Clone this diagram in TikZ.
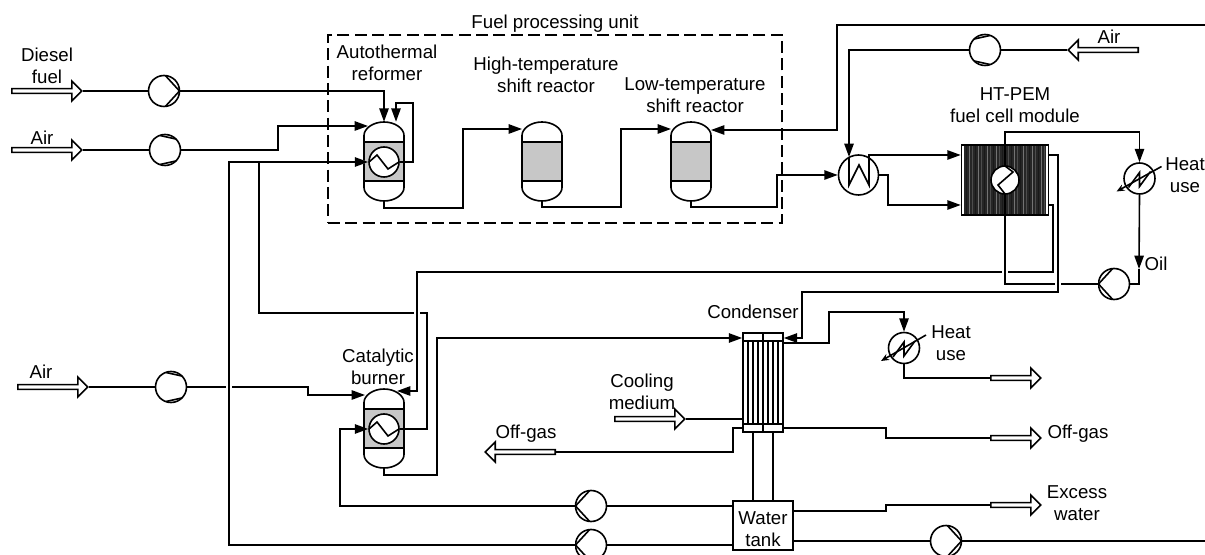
\documentclass[tikz,border=0pt]{standalone}
\usepackage{fontspec}
\setmainfont{Liberation Sans}
\usetikzlibrary{arrows.meta, shapes.arrows}
\definecolor{bedgray}{gray}{0.78}
\tikzset{
    pipe/.style={line width=1.2pt},
    arrow/.style={pipe,-{Triangle[length=10pt,width=7pt]}},
    over/.style={preaction={draw=white,line width=4pt}},
    label/.style={align=center, inner sep=0pt, font=\fontsize{14}{16.5}\selectfont},
    feed/.style={single arrow, draw, pipe, fill=white, anchor=tail, inner sep=0pt, minimum width=15pt, minimum height=52.5pt, single arrow head extend=2pt, single arrow head indent=0pt},
    feedleft/.style={feed, shape border rotate=180},
    outlet/.style={feed, minimum height=37.5pt},
    pumpbase/.style={circle, draw, pipe, fill=white, minimum size=23.25pt, inner sep=0pt},
    pumpright/.style={pumpbase, path picture={\draw[pipe] ([shift={(85:15.5)}]path picture bounding box.center) -- ([shift={(0:15.5)}]path picture bounding box.center) -- ([shift={(-85:15.5)}]path picture bounding box.center);}},
    pumpleft/.style={pumpbase, path picture={\draw[pipe] ([shift={(95:15.5)}]path picture bounding box.center) -- ([shift={(180:15.5)}]path picture bounding box.center) -- ([shift={(-95:15.5)}]path picture bounding box.center);}},
    pumpflat/.style={pumpbase, path picture={\draw[pipe] ([shift={(110:15.5)}]path picture bounding box.center) -- ([shift={(45:15.5)}]path picture bounding box.center); \draw[pipe] ([shift={(-110:15.5)}]path picture bounding box.center) -- ([shift={(-45:15.5)}]path picture bounding box.center);}},
    pumpflatleft/.style={pumpbase, path picture={\draw[pipe] ([shift={(70:15.5)}]path picture bounding box.center) -- ([shift={(135:15.5)}]path picture bounding box.center); \draw[pipe] ([shift={(-70:15.5)}]path picture bounding box.center) -- ([shift={(-135:15.5)}]path picture bounding box.center);}},
    coil/.style={circle, draw, pipe, fill=white, minimum size=22.5pt, inner sep=0pt, path picture={\draw[pipe] (path picture bounding box.west) -- ++(8,-7) -- ++(11,14) -- (path picture bounding box.east);}},
    stackcoil/.style={circle, draw, pipe, fill=white, minimum size=21pt, inner sep=0pt, path picture={\draw[pipe] (path picture bounding box.north) -- ++(8,6) -- ++(-15,13) -- (path picture bounding box.south);}},
    heatuse/.style={circle, draw, pipe, fill=white, minimum size=23.25pt, inner sep=0pt, path picture={\draw[pipe] ([shift={(-11,9)}]path picture bounding box.center) -- ++(11,-15) -- ++(0,14) -- ++(11,-15);}},
    airheater/.style={circle, draw, pipe, fill=white, minimum size=30pt, inner sep=0pt, path picture={\draw[pipe] ([shift={(-9.5,-20)}]path picture bounding box.center) -- ++(0,30) -- ++(10,-20) -- ++(10,20) -- ++(0,-30);}},
    stackbox/.style={rectangle, draw, pipe, fill=white, minimum width=65.25pt, minimum height=52.5pt, inner sep=0pt},
    condbox/.style={rectangle, draw, pipe, fill=white, minimum width=30pt, minimum height=74.25pt, inner sep=0pt},
    tankbox/.style={rectangle, draw, pipe, fill=white, minimum width=45pt, minimum height=36.75pt, inner sep=0pt},
    unitbox/.style={rectangle, draw, line width=1.1pt, dash pattern=on 9pt off 4pt, minimum width=340.5pt, minimum height=141pt},
    vessel/.pic={
        \filldraw[pipe, fill=white] (-20,-26) .. controls (-20,-33) and (-11,-39.5) .. (0,-39.5) .. controls (11,-39.5) and (20,-33) .. (20,-26) -- (20,26) .. controls (20,33) and (11,39.5) .. (0,39.5) .. controls (-11,39.5) and (-20,33) .. (-20,26) -- cycle;
        \filldraw[pipe, fill=bedgray] (-20,-19.5) rectangle (20,19.5);
        \node[minimum width=30pt, minimum height=59.25pt, inner sep=0pt] (-body) {};
    }
}
\begin{document}
\begin{tikzpicture}[x=0.75pt, y=-0.75pt]
    \path[use as bounding box, clip] (0,0) rectangle (1205,555);

    % reactors and burner
    \pic (atr) at (384,161.5) {vessel};
    \pic (hts) at (542,161.5) {vessel};
    \pic (lts) at (691,161.5) {vessel};
    \pic (brn) at (384,428.5) {vessel};
    \node (atrcoil) [coil] at (384,162) {};
    \node (brncoil) [coil] at (384,429) {};

    % fuel cell stack
    \node (stack) [stackbox] at (1005,180) {};
    \fill [black!85] (964,146) rectangle (1046,214);
    \foreach \stripex [count=\i] in {966,969,...,1044} {
        \pgfmathsetmacro{\stripeshade}{ifthenelse(mod(\i,3)==0,70,ifthenelse(mod(\i,3)==1,90,55))}
        \draw [line width=0.7pt, black!\stripeshade] (\stripex,146) -- (\stripex,214);
    }
    \draw [pipe] (stack.north) -- (stack.south);
    \node (stkcoil) [stackcoil] at (1005,180) {};

    % condenser
    \node (cond) [condbox] at (763,382.5) {};
    \foreach \tubex in {748,753,...,778} {
        \draw [pipe] (\tubex,341) -- (\tubex,424);
    }
    \draw [pipe] (743,341) -- (783,341);
    \draw [pipe] (743,424) -- (783,424);
    \draw [pipe] (cond.north) -- (cond.south);

    \node (tank) [tankbox] at (763,525.5) {};

    % pumps
    \node (pdiesel) [pumpright] at (164,91) {};
    \node (pair) [pumpflat] at (165,150) {};
    \node (plow) [pumpflat] at (171,387) {};
    \node (pcell) [pumpflatleft] at (985,50) {};
    \node (poil) [pumpleft] at (1114,284) {};
    \node (pwater) [pumpleft] at (591,506) {};
    \node (pfeed) [pumpleft] at (591,545) {};
    \node (pout) [pumpright] at (946,541) {};

    % heat exchangers
    \node (hxair) [airheater] at (858.5,175) {};
    \node (heatcell) [heatuse] at (1139.5,178.5) {};
    \node (heatcond) [heatuse] at (904,348) {};

    % feeds and outlets
    \node (fdiesel) [feed] at (11,91) {};
    \node (fair) [feed] at (11,150) {};
    \node (flow) [feed] at (17,387) {};
    \node (fcell) [feedleft] at (1139,50) {};
    \node (fcool) [feed] at (614,419) {};
    \node (foffl) [feedleft] at (556,452) {};
    \node (fheat) [outlet] at (990,378) {};
    \node (foff) [outlet] at (990,438) {};
    \node (fexcess) [outlet] at (990,505) {};

    \coordinate (edgetop) at (1205,25);
    \coordinate (edgelow) at (1205,541);
    \coordinate (tee) at (259,162);
    \coordinate (oilmark) at (1139,269);

    % fuel side
    \draw [pipe] (fdiesel.tip) -- (pdiesel);
    \draw [arrow] (pdiesel) -| (atr-body.north);
    \draw [arrow] (atrcoil.east) -- (413,162) -- (413,103) -| ([shift={(12,0)}]atr-body.north);
    \draw [pipe] (fair.tip) -- (pair);
    \draw [arrow] (pair) -- (278,150) -- (278,126) -- ([shift={(-16,-35.5)}]atr-body.center);
    \draw [arrow] (atr-body.south) -- (384,208) -- (463,208) -- (463,129) -- ([shift={(-20,-32.5)}]hts-body.center);
    \draw [arrow] (hts-body.south) -- (542,207) -- (621,207) -- (621,129) -- ([shift={(-20,-32.5)}]lts-body.center);
    \draw [arrow] (lts-body.south) -- (691,207) -- (777,207) -- (777,175) -- (hxair.west);
    \draw [arrow] (edgetop) -- (837,25) -- (837,130) -- ([shift={(20,-31.5)}]lts-body.center);

    % cathode air
    \draw [pipe] (fcell.tip) -- (pcell);
    \draw [arrow] (pcell) -- (849,50) -- ([shift={(-9.5,-18)}]hxair.center);
    \draw [arrow] ([shift={(10.5,-17)}]hxair.center) -- (869,155) -- ([shift={(0,-25)}]stack.west);
    \draw [arrow] (hxair.east) -- (888,175) -- (888,205) -- ([shift={(0,25)}]stack.west);

    % oil loop
    \draw [arrow] (stack.north) -- (1005,132) -- (1139.5,132) -- (heatcell.north);
    \draw [arrow] (heatcell.south) -- (oilmark);
    \draw [pipe] (oilmark) -- (1139,284) -- (poil.east);

    % burner side
    \draw [pipe] (flow.tip) -- (plow);
    \draw [arrow] (plow) -- (308,387) -- (308,395) -- ([shift={(-19,-33.5)}]brn-body.center);
    \draw [arrow, over] (pfeed) -- (229,545) -- (229,162) -- (atrcoil.west);
    \draw [pipe] (brncoil.east) -- (427,429) -- (427,313) -- (259,313) -- (tee);
    \draw [arrow, over] ([shift={(0,25)}]stack.east) -- (1053,205) -- (1053,272) -- (417,272) -- (417,391) -- ([shift={(13,-37.5)}]brn-body.center);
    \draw [pipe, over] (stack.south) -- (1005,284) -- (poil.west);
    \draw [arrow, over] ([shift={(0,-25)}]stack.east) -- (1058,155) -- (1058,292) -- (802,292) -- (802,338) -- ([shift={(0,-44.5)}]cond.east);
    \draw [arrow] (brn-body.south) -- (384,475) -- (437,475) -- (437,338) -- ([shift={(0,-44.5)}]cond.west);

    % condenser and water
    \draw [arrow] ([shift={(0,-39.5)}]cond.east) -- (829,343) -- (829,312) -- (904,312) -- (heatcond.north);
    \draw [pipe] (heatcond.south) -- (904,378) -- (fheat.tail);
    \draw [pipe] (fcool.tip) -- ([shift={(0,36.5)}]cond.west);
    \draw [pipe] ([shift={(0,45.5)}]cond.west) -- (733,428) -- (733,452) -- (foffl.tail);
    \draw [pipe] ([shift={(0,45.5)}]cond.east) -- (886,428) -- (886,438) -- (foff.tail);
    \draw [pipe] ([shift={(-10,0)}]cond.south) -- ([shift={(-10,0)}]tank.north);
    \draw [pipe] ([shift={(10,0)}]cond.south) -- ([shift={(10,0)}]tank.north);
    \draw [pipe] ([shift={(0,-19.5)}]tank.west) -- (pwater);
    \draw [arrow] (pwater) -- (340,506) -- (340,429) -- (brncoil.west);
    \draw [pipe] ([shift={(0,19.5)}]tank.west) -- (pfeed);
    \draw [pipe] ([shift={(0,-14.5)}]tank.east) -- (886,511) -- (886,505) -- (fexcess.tail);
    \draw [pipe] ([shift={(0,15.5)}]tank.east) -- (pout);
    \draw [pipe] (pout) -- (edgelow);

    % heat use tips
    \draw [pipe, -{Stealth[length=6pt,width=5pt]}] ([shift={(22,-12)}]heatcell.center) -- ([shift={(-23,13)}]heatcell.center);
    \draw [pipe, -{Stealth[length=6pt,width=5pt]}] ([shift={(22,-13)}]heatcond.center) -- ([shift={(-23,13)}]heatcond.center);

    \node (fpu) [unitbox] at (555,129) {};

    % labels
    \node (tfpu) [label] at (555,24) {Fuel processing unit};
    \node (tdiesel) [label] at (47,66) {Diesel\\fuel};
    \node (tair) [label] at (42,138) {Air};
    \node (tatr) [label] at (387,63) {Autothermal\\reformer};
    \node (thts) [label] at (546,75) {High-temperature\\shift reactor};
    \node (tlts) [label] at (695,95) {Low-temperature\\shift reactor};
    \node (tcell) [label] at (1015,105) {HT-PEM\\fuel cell module};
    \node (taircell) [label] at (1109,37) {Air};
    \node (theat) [label] at (1185,175) {Heat\\use};
    \node (toil) [label] at (1156,264) {Oil};
    \node (tcond) [label] at (753,312) {Condenser};
    \node (tbrn) [label] at (378,367) {Catalytic\\burner};
    \node (tlow) [label] at (41,372) {Air};
    \node (tcool) [label] at (642,392) {Cooling\\medium};
    \node (toffl) [label] at (526,434) {Off-gas};
    \node (theat2) [label] at (951,343) {Heat\\use};
    \node (toff) [label] at (1078,434) {Off-gas};
    \node (texcess) [label] at (1077,503) {Excess\\water};
    \node (ttank) [label] at (763,529) {Water\\tank};
\end{tikzpicture}
\end{document}
